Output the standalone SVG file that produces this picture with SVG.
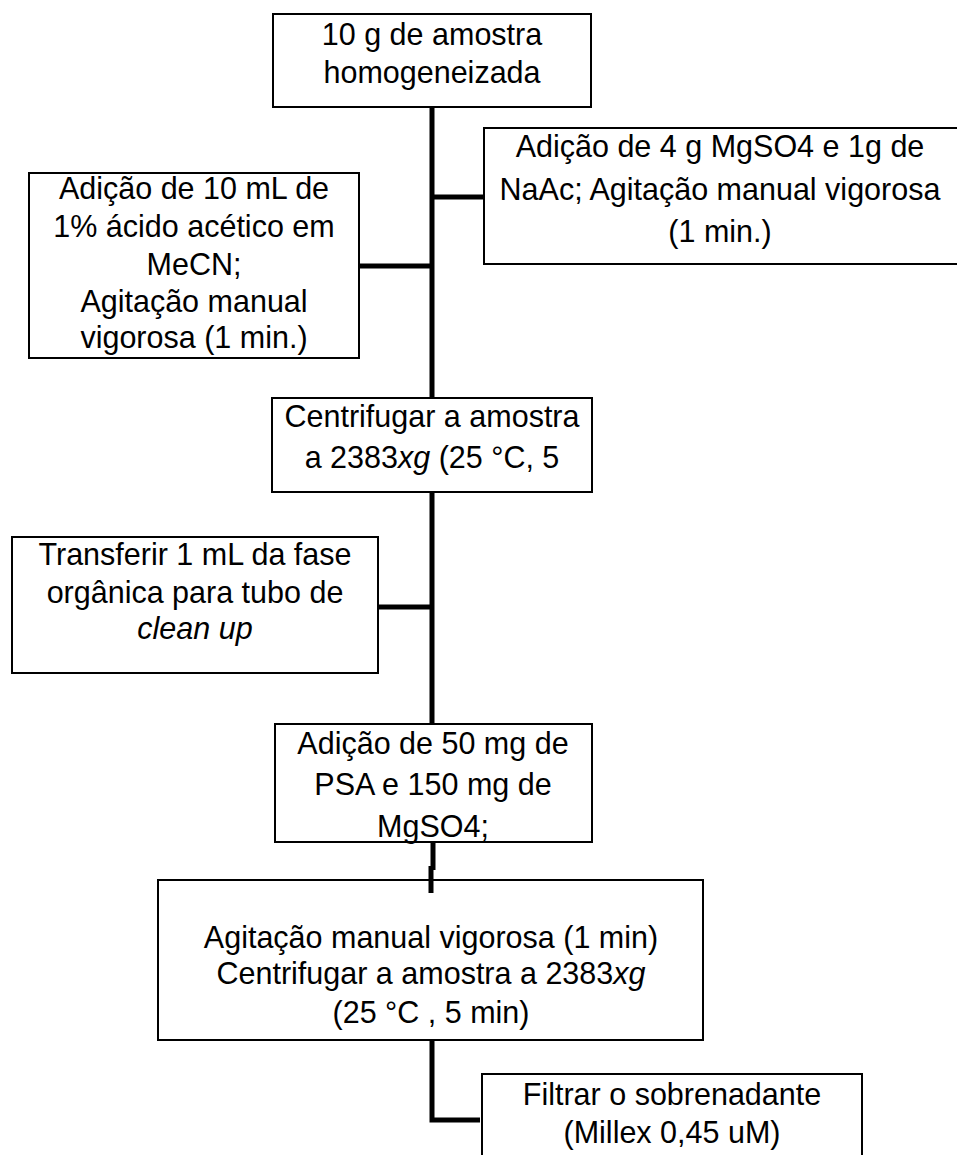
<svg xmlns="http://www.w3.org/2000/svg" width="957" height="1155" viewBox="0 0 957 1155">
<style>
.box{fill:#fff;stroke:#000;stroke-width:2}
.t{font-family:"Liberation Sans",Arial,sans-serif;font-size:30.5px;fill:#000;text-anchor:middle}
.c{stroke:#000;stroke-width:5;fill:none}
</style>
<rect width="957" height="1155" fill="#fff"/>
<g id="connectors">
<line class="c" x1="432" y1="106" x2="432" y2="398"/>
<line class="c" x1="432" y1="197" x2="484" y2="197"/>
<line class="c" x1="359" y1="266" x2="432" y2="266"/>
<line class="c" x1="432" y1="492" x2="432" y2="724"/>
<line class="c" x1="378" y1="607" x2="432" y2="607"/>
<line class="c" x1="433" y1="842" x2="433" y2="870"/>
<line class="c" x1="431" y1="866" x2="431" y2="893"/>
<polyline class="c" points="432,1040 432,1120 480,1120"/>
</g>
<g id="n1">
<rect class="box" x="273" y="14" width="318" height="93"/>
<text class="t" x="432" y="45">10 g de amostra</text>
<text class="t" x="432" y="83">homogeneizada</text>
</g>
<g id="n2">
<rect class="box" x="484" y="128" width="480" height="136"/>
<text class="t" x="720" y="157">Adição de 4 g MgSO4 e 1g de</text>
<text class="t" x="720" y="200">NaAc; Agitação manual vigorosa</text>
<text class="t" x="720" y="242">(1 min.)</text>
</g>
<g id="n3">
<rect class="box" x="29" y="173" width="330" height="185"/>
<text class="t" x="194" y="199">Adição de 10 mL de</text>
<text class="t" x="194" y="237">1% ácido acético em</text>
<text class="t" x="194" y="275">MeCN;</text>
<text class="t" x="194" y="312">Agitação manual</text>
<text class="t" x="194" y="348">vigorosa (1 min.)</text>
</g>
<g id="n4">
<rect class="box" x="272" y="398" width="320" height="94"/>
<text class="t" x="432" y="427">Centrifugar a amostra</text>
<text class="t" x="432" y="468">a 2383<tspan font-style="italic">xg</tspan> (25 °C, 5</text>
</g>
<g id="n5">
<rect class="box" x="12" y="537" width="366" height="136"/>
<text class="t" x="195" y="565">Transferir 1 mL da fase</text>
<text class="t" x="195" y="603">orgânica para tubo de</text>
<text class="t" x="195" y="639" font-style="italic">clean up</text>
</g>
<g id="n6">
<rect class="box" x="275" y="724" width="317" height="118"/>
<text class="t" x="433" y="754">Adição de 50 mg de</text>
<text class="t" x="433" y="795">PSA e 150 mg de</text>
<text class="t" x="433" y="837">MgSO4;</text>
<line x1="275" y1="842" x2="592" y2="842" stroke="#000" stroke-width="2"/>
</g>
<g id="n7">
<rect class="box" x="158" y="880" width="545" height="160"/>
<line class="c" x1="431" y1="879" x2="431" y2="893"/>
<text class="t" x="431" y="948">Agitação manual vigorosa (1 min)</text>
<text class="t" x="431" y="984">Centrifugar a amostra a 2383<tspan font-style="italic">xg</tspan></text>
<text class="t" x="431" y="1023">(25 °C , 5 min)</text>
</g>
<g id="n8">
<rect class="box" x="482" y="1074" width="380" height="100"/>
<text class="t" x="672" y="1105">Filtrar o sobrenadante</text>
<text class="t" x="672" y="1143">(Millex 0,45 uM)</text>
</g>
</svg>
